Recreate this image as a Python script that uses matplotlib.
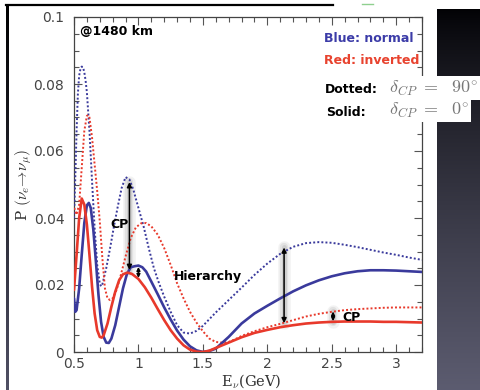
import numpy as np
import matplotlib
matplotlib.use("Agg")
import matplotlib.pyplot as plt
from matplotlib.lines import Line2D

plt.rcParams["mathtext.fontset"] = "cm"

# ---------------- data ----------------
# Normal hierarchy, delta_CP = 0 (blue solid)
blue_solid_x = [0.50, 0.51, 0.52, 0.54, 0.56, 0.58, 0.60, 0.615, 0.63, 0.65, 0.67, 0.69, 0.71, 0.73,
                0.75, 0.77, 0.79, 0.82, 0.85, 0.88, 0.91, 0.94, 0.97, 1.00, 1.03, 1.06, 1.10, 1.15,
                1.20, 1.25, 1.30, 1.35, 1.40, 1.45, 1.50, 1.55, 1.60, 1.70, 1.80, 1.90, 2.00, 2.10,
                2.20, 2.30, 2.40, 2.50, 2.60, 2.70, 2.80, 2.90, 3.00, 3.10, 3.20]
blue_solid_y = [0.0160, 0.0120, 0.0125, 0.0190, 0.0290, 0.0385, 0.0438, 0.0445, 0.0430, 0.0365,
                0.0270, 0.0170, 0.0090, 0.0045, 0.0028, 0.0027, 0.0040, 0.0080, 0.0135, 0.0190,
                0.0232, 0.0253, 0.0256, 0.0258, 0.0253, 0.0240, 0.0210, 0.0172, 0.0133, 0.0097,
                0.0064, 0.0037, 0.0017, 0.0005, 0.0000, 0.0003, 0.0010, 0.0045, 0.0085, 0.0115,
                0.0138, 0.0160, 0.0181, 0.0199, 0.0214, 0.0226, 0.0235, 0.0241, 0.0244, 0.0244,
                0.0243, 0.0241, 0.0239]

# Inverted hierarchy, delta_CP = 0 (red solid)
red_solid_x = [0.50, 0.52, 0.54, 0.56, 0.58, 0.60, 0.62, 0.64, 0.66, 0.68, 0.70, 0.715, 0.73, 0.76,
               0.79, 0.82, 0.85, 0.88, 0.915, 0.95, 1.00, 1.05, 1.10, 1.15, 1.20, 1.25, 1.30, 1.35,
               1.40, 1.45, 1.50, 1.55, 1.60, 1.70, 1.80, 1.90, 2.00, 2.10, 2.20, 2.30, 2.40, 2.50,
               2.60, 2.70, 2.80, 2.90, 3.00, 3.10, 3.20]
red_solid_y = [0.0185, 0.0290, 0.0400, 0.0458, 0.0440, 0.0380, 0.0290, 0.0195, 0.0115, 0.0065,
               0.0045, 0.0043, 0.0050, 0.0085, 0.0135, 0.0180, 0.0214, 0.0232, 0.0237, 0.0233,
               0.0218, 0.0193, 0.0162, 0.0128, 0.0095, 0.0065, 0.0040, 0.0020, 0.0007, 0.0001,
               0.0000, 0.0004, 0.0012, 0.0028, 0.0044, 0.0057, 0.0066, 0.0074, 0.0080, 0.0085,
               0.0088, 0.0090, 0.0091, 0.0091, 0.0091, 0.0090, 0.0090, 0.0089, 0.0088]

# Normal hierarchy, delta_CP = 90 (blue dotted)
blue_dot_x = [0.50, 0.51, 0.52, 0.53, 0.54, 0.55, 0.56, 0.57, 0.58, 0.59, 0.60, 0.62, 0.64, 0.66,
              0.68, 0.70, 0.71, 0.72, 0.75, 0.78, 0.81, 0.84, 0.87, 0.90, 0.93, 0.96, 1.00, 1.04,
              1.08, 1.12, 1.16, 1.20, 1.25, 1.30, 1.35, 1.40, 1.45, 1.50, 1.60, 1.70, 1.80, 1.90,
              2.00, 2.10, 2.20, 2.30, 2.40, 2.50, 2.60, 2.70, 2.80, 2.90, 3.00, 3.10, 3.20]
blue_dot_y = [0.0400, 0.0520, 0.0660, 0.0770, 0.0825, 0.0845, 0.0852, 0.0850, 0.0835, 0.0810,
              0.0775, 0.0660, 0.0510, 0.0370, 0.0260, 0.0205, 0.0196, 0.0202, 0.0250, 0.0310,
              0.0375, 0.0435, 0.0490, 0.0522, 0.0515, 0.0485, 0.0430, 0.0375, 0.0310, 0.0250,
              0.0205, 0.0165, 0.0120, 0.0080, 0.0058, 0.0055, 0.0063, 0.0078, 0.0118, 0.0155,
              0.0192, 0.0230, 0.0264, 0.0293, 0.0314, 0.0325, 0.0328, 0.0326, 0.0320, 0.0313,
              0.0305, 0.0297, 0.0290, 0.0282, 0.0275]

# Inverted hierarchy, delta_CP = 90 (red dotted)
red_dot_x = [0.50, 0.52, 0.54, 0.56, 0.58, 0.60, 0.61, 0.62, 0.64, 0.66, 0.68, 0.70, 0.72, 0.74,
             0.76, 0.78, 0.80, 0.83, 0.86, 0.90, 0.94, 0.98, 1.02, 1.06, 1.10, 1.15, 1.20, 1.25,
             1.30, 1.35, 1.40, 1.45, 1.50, 1.55, 1.60, 1.65, 1.70, 1.75, 1.80, 1.90, 2.00, 2.10,
             2.20, 2.30, 2.40, 2.50, 2.60, 2.70, 2.80, 2.90, 3.00, 3.10, 3.20]
red_dot_y = [0.0430, 0.0410, 0.0440, 0.0550, 0.0660, 0.0705, 0.0707, 0.0700, 0.0640, 0.0560,
             0.0480, 0.0390, 0.0280, 0.0190, 0.0160, 0.0155, 0.0160, 0.0185, 0.0225, 0.0285,
             0.0340, 0.0372, 0.0384, 0.0385, 0.0375, 0.0350, 0.0310, 0.0260, 0.0205, 0.0160,
             0.0120, 0.0088, 0.0062, 0.0040, 0.0030, 0.0028, 0.0030, 0.0038, 0.0048, 0.0062,
             0.0074, 0.0084, 0.0095, 0.0106, 0.0114, 0.0120, 0.0125, 0.0128, 0.0130, 0.0132,
             0.0133, 0.0133, 0.0133]

x_ticks = [0.5, 1, 1.5, 2, 2.5, 3]
x_tick_labels = ["0.5", "1", "1.5", "2", "2.5", "3"]
y_ticks = [0, 0.02, 0.04, 0.06, 0.08, 0.1]
y_tick_labels = ["0", "0.02", "0.04", "0.06", "0.08", "0.1"]

# ---------------- figure ----------------
W, H = 481, 390
fig = plt.figure(figsize=(W / 100, H / 100), dpi=100)
fig.patch.set_facecolor("white")

def fx(px):
    return px / W

def fy(py):
    return 1 - py / H

# dark gradient panel on the right
pan = fig.add_axes([fx(437), 0, fx(481) - fx(437), fy(9)])
grad = np.linspace(0, 1, 256) ** 0.8
top = np.array([2, 2, 5]) / 255
bot = np.array([92, 92, 112]) / 255
img = top[None, :] + grad[:, None] * (bot - top)[None, :]
pan.imshow(img[:, None, :], aspect="auto", extent=[0, 1, 0, 1], origin="upper")
pan.set_axis_off()

# left border line (gradient)
lb = fig.add_axes([fx(6), 0, fx(2.2), fy(4)])
gl = np.linspace(0, 1, 256)
top2 = np.array([0, 0, 0]) / 255
bot2 = np.array([80, 80, 100]) / 255
img2 = top2[None, :] + gl[:, None] * (bot2 - top2)[None, :]
lb.imshow(img2[:, None, :], aspect="auto", extent=[0, 1, 0, 1], origin="upper")
lb.set_axis_off()

# top border line and small green mark
fig.add_artist(Line2D([fx(6), fx(333)], [fy(5), fy(5)], color="black", lw=1.6))
fig.add_artist(Line2D([fx(362), fx(373)], [fy(4), fy(4)], color="#8fd08f", lw=1.0))

# main axes
ax = fig.add_axes([fx(74), fy(352), fx(422) - fx(74), fy(17) - fy(352)])
ax.set_xlim(0.5, 3.2)
ax.set_ylim(0, 0.1)

blue = "#3a3a9c"
red = "#e8392b"

# shadows behind arrows
def shadow(x, y0, y1):
    for lw, a in [(9, 0.10), (6, 0.15), (3.5, 0.22)]:
        ax.plot([x, x], [y0, y1], color="#888888", lw=lw, alpha=a, solid_capstyle="round", zorder=1)

shadow(0.93, 0.0245, 0.0507)
shadow(2.13, 0.0086, 0.0312)
shadow(2.51, 0.0090, 0.0122)

ax.plot(blue_dot_x, blue_dot_y, color=blue, lw=1.4, linestyle=(0, (1, 1.1)), zorder=3)
ax.plot(red_dot_x, red_dot_y, color=red, lw=1.4, linestyle=(0, (1, 1.1)), zorder=3)
ax.plot(blue_solid_x, blue_solid_y, color=blue, lw=1.9, zorder=4, solid_capstyle="round")
ax.plot(red_solid_x, red_solid_y, color=red, lw=1.9, zorder=4, solid_capstyle="round")

# arrows
def darrow(x, y0, y1, ms=7):
    ax.annotate("", xy=(x, y0), xytext=(x, y1),
                arrowprops=dict(arrowstyle="<|-|>", color="black", lw=1.1,
                                mutation_scale=ms, shrinkA=0, shrinkB=0), zorder=6)

darrow(0.93, 0.0245, 0.0507)
darrow(1.00, 0.0221, 0.0254, ms=5)
darrow(2.13, 0.0086, 0.0312)
darrow(2.51, 0.0092, 0.0121, ms=5)

# ticks and spines
ax.set_xticks(x_ticks)
ax.set_xticklabels(x_tick_labels)
ax.set_yticks(y_ticks)
ax.set_yticklabels(y_tick_labels)
ax.set_xticks(np.arange(0.5, 3.21, 0.1), minor=True)
ax.set_yticks(np.arange(0, 0.1001, 0.005), minor=True)
ax.tick_params(which="both", direction="in", top=True, right=True, colors="#555555",
               labelcolor="#444444", labelsize=10)
ax.tick_params(which="major", length=6, width=0.8)
ax.tick_params(axis="y", which="major", pad=7)
ax.tick_params(axis="x", which="major", pad=3.5)
ax.tick_params(which="minor", length=3.5, width=0.8)
for s in ax.spines.values():
    s.set_color("#444444")
    s.set_linewidth(0.9)

ax.set_xlabel(r"E$_\nu$(GeV)", fontfamily="serif", fontsize=10.5, color="#333333")
ax.xaxis.set_label_coords(0.51, -0.088)
ax.xaxis.label.set_va("center")
ax.set_ylabel(r"P $(\nu_e\!\rightarrow\!\nu_\mu)$", fontfamily="serif", fontsize=11, color="#333333")
ax.yaxis.set_label_coords(-0.144, 0.5)
ax.yaxis.label.set_va("center")

bold = dict(fontweight="bold", fontfamily="DejaVu Sans", fontsize=9)
ax.text(0.546, 0.0958, "@1480 km", va="center", ha="left", color="black", **bold)
ax.text(2.438, 0.0937, "Blue: normal", va="center", ha="left", color="#3c3ca8", **bold)
ax.text(2.438, 0.0869, "Red: inverted", va="center", ha="left", color="#e8432f", **bold)
ax.text(2.446, 0.0785, "Dotted:", va="center", ha="left", color="black", **bold)
ax.text(2.454, 0.0716, "Solid:", va="center", ha="left", color="black", **bold)
ax.text(0.854, 0.0382, "CP", va="center", ha="center", color="black", zorder=7, **bold)
ax.text(1.277, 0.0224, "Hierarchy", va="center", ha="left", color="black", zorder=7, **bold)
ax.text(2.585, 0.0104, "CP", va="center", ha="left", color="black", zorder=7, **bold)

delta_kw = dict(va="center", ha="left", color="#777777", fontsize=13, clip_on=False,
                bbox=dict(facecolor="white", edgecolor="none", pad=1.5), zorder=8)
fig.text(fx(389), fy(88), r"$\delta_{CP}\ =\ \ 90^{\circ}$", **delta_kw)
fig.text(fx(389), fy(110), r"$\delta_{CP}\ =\ \ 0^{\circ}$", **delta_kw)

fig.savefig("out.png", dpi=100, facecolor="white")
